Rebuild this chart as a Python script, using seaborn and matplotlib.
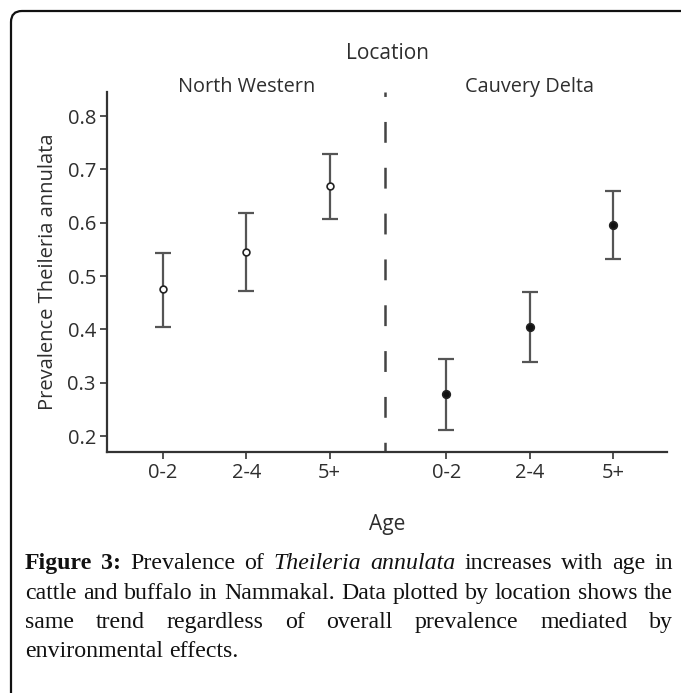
import numpy as np
import pandas as pd
import matplotlib
matplotlib.use("Agg")
import matplotlib.pyplot as plt
import seaborn as sns
from matplotlib.patches import FancyBboxPatch

# ---------------- data ----------------
locations = ["North Western", "Cauvery Delta"]
age_groups = ["0-2", "2-4", "5+"]
nw_prev = [0.475, 0.545, 0.668]
nw_lower = [0.404, 0.471, 0.607]
nw_upper = [0.543, 0.619, 0.729]
cd_prev = [0.279, 0.405, 0.596]
cd_lower = [0.212, 0.339, 0.531]
cd_upper = [0.344, 0.470, 0.659]
y_ticks = [0.2, 0.3, 0.4, 0.5, 0.6, 0.7, 0.8]

title_top = "Location"
x_label = "Age"
y_label = "Prevalence Theileria annulata"

# ---------------- layout ----------------
group_offset = [0.0, 3.4]
rows = []
for li, (loc, prev, lo, up) in enumerate(zip(locations, [nw_prev, cd_prev],
                                             [nw_lower, cd_lower], [nw_upper, cd_upper])):
    for i, age in enumerate(age_groups):
        rows.append(dict(location=loc, age=age, prev=prev[i], lower=lo[i], upper=up[i],
                         xpos=i + group_offset[li]))
df = pd.DataFrame(rows)

sns.set_theme(style="white")
plt.rcParams["font.family"] = ["Open Sans", "DejaVu Sans"]
plt.rcParams["lines.scale_dashes"] = False

W, H = 681, 693
fig = plt.figure(figsize=(W / 100, H / 100), dpi=100)
ax = fig.add_axes([107 / W, 1 - 452 / H, (667 - 107) / W, (452 - 92) / H])

TXT = "#2e2e2e"
YMAX = 0.845
ax.set_xlim(-0.672, 6.05)
ax.set_ylim(0.17, YMAX)

for loc, face in zip(locations, ["white", "#111111"]):
    d = df[df.location == loc]
    ax.errorbar(d.xpos, d.prev, yerr=[d.prev - d.lower, d.upper - d.prev], fmt="none",
                ecolor="#555555", elinewidth=1.6, capsize=6, capthick=1.6, zorder=2)
    sns.scatterplot(data=d, x="xpos", y="prev", ax=ax, color=face, edgecolor="#222222",
                    linewidth=1.2, s=24 if face == "white" else 30, zorder=3, legend=False)

# dashed separator
sep = (2 + group_offset[1]) / 2 - 0.03
ax.axvline(sep, color="#444444", lw=1.8, linestyle=(8, (15, 18)), zorder=1)

ax.set_xticks(df.xpos)
ax.set_xticklabels(df.age)
ax.set_yticks(y_ticks)
ax.set_yticklabels([f"{v:.1f}" for v in y_ticks])
for s in ["top", "right"]:
    ax.spines[s].set_visible(False)
for s in ["left", "bottom"]:
    ax.spines[s].set_color("#333333")
    ax.spines[s].set_linewidth(1.6)
ax.tick_params(axis="both", direction="out", length=5, width=1.2, color="#333333",
               labelcolor=TXT, labelsize=14.5, pad=3, left=True, bottom=True)
ax.set_xlabel(x_label, fontsize=15, color=TXT, labelpad=22)
ax.set_ylabel(y_label, fontsize=14.5, color=TXT, labelpad=7)

# group headings
for loc, off in zip(locations, group_offset):
    ax.text(off + 1, YMAX, loc, ha="center", va="baseline", fontsize=14.3,
            color=TXT, transform=ax.transData, clip_on=False)
ax.text(0.5, 1 + 33 / 360, title_top, ha="center", va="baseline", fontsize=15,
        color=TXT, transform=ax.transAxes)

# ---------------- rounded frame ----------------
frame = FancyBboxPatch((11 / W, -0.2), 1.2, 1 - 11 / H + 0.2,
                       boxstyle="round,pad=0,rounding_size=0.016",
                       transform=fig.transFigure, fill=False, edgecolor="#111111",
                       linewidth=1.6, clip_on=False)
fig.patches.append(frame)

# ---------------- caption (justified) ----------------
serif = ["Liberation Serif", "DejaVu Serif"]
cap_lines = [
    [("Figure", "bold", "normal"), ("3:", "bold", "normal"), ("Prevalence", "normal", "normal"),
     ("of", "normal", "normal"), ("Theileria", "normal", "italic"), ("annulata", "normal", "italic"),
     ("increases", "normal", "normal"), ("with", "normal", "normal"), ("age", "normal", "normal"),
     ("in", "normal", "normal")],
    [(w, "normal", "normal") for w in
     "cattle and buffalo in Nammakal. Data plotted by location shows the".split()],
    [(w, "normal", "normal") for w in
     "same trend regardless of overall prevalence mediated by".split()],
    [(w, "normal", "normal") for w in "environmental effects.".split()],
]
baselines = [569, 599, 628, 657]
x0, x1 = 25, 673
renderer = fig.canvas.get_renderer()


def word_width(word, weight, style, size):
    t = fig.text(0, 0, word, fontsize=size, family=serif, weight=weight, style=style)
    w = t.get_window_extent(renderer).width
    t.remove()
    return w


# fit size so that line 2 spans the column with natural spacing
ref_size = 16.0
line2 = " ".join(w for w, _, _ in cap_lines[1])
nat = word_width(line2, "normal", "normal", ref_size)
cap_size = ref_size * (x1 - x0) / nat * 0.995

space_w = word_width("a a", "normal", "normal", cap_size) - 2 * word_width("a", "normal", "normal", cap_size)
for li, (words, yb) in enumerate(zip(cap_lines, baselines)):
    widths = [word_width(*wd, cap_size) for wd in words]
    if li < len(cap_lines) - 1:
        gap = (x1 - x0 - sum(widths)) / (len(words) - 1)
    else:
        gap = space_w
    x = x0
    for (word, weight, style), w in zip(words, widths):
        fig.text(x / W, 1 - yb / H, word, fontsize=cap_size, family=serif, weight=weight,
                 style=style, color="#111111", va="baseline", ha="left")
        x += w + gap

fig.savefig("out.png", dpi=100)
